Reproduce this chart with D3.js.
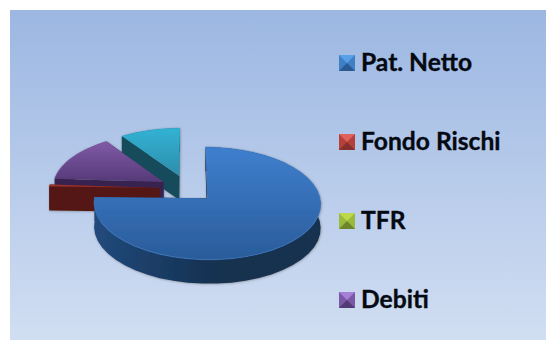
<!DOCTYPE html>
<html lang="en">
<head>
<meta charset="utf-8">
<title>Pat. Netto</title>
<script src="https://d3js.org/d3.v7.min.js"></script>
<style type="text/css">
	html, body { margin: 0; padding: 0; background: white; overflow: hidden; }
	svg { display: block; }
	.legendText {
		font-family: Lato, sans-serif;
		font-weight: 700;
		font-size: 24.6px;
		fill: #050a12;
		stroke: #050a12;
		stroke-width: 0.35;
	}
</style>
</head>
<body>
<script type="text/javascript">

	// the fifth slice has no entry in the original legend
	var sliceNames = ["Pat. Netto", "Fondo Rischi", "TFR", "Debiti", "Altro"];
	var sliceValues = [75.4, 0.6, 0, 14.3, 9.7];
	var legendLabels = ["Pat. Netto", "Fondo Rischi", "TFR", "Debiti"];

	var topLight = ["#3f7fce", "#a83a36", "#9bbb3f", "#805aa6", "#31b2d4"];
	var topDark = ["#2a5c9a", "#7a2320", "#6f8a2a", "#553a78", "#2e8dab"];
	var wallLeft = ["#214a7c", "#551712", "#55691e", "#392450", "#154b5b"];
	var wallRight = ["#14304f", "#551712", "#55691e", "#392450", "#154b5b"];
	var markerTop = ["#58a0e8", "#e0625c", "#bcd84f", "#a67fd6"];
	var markerSide = ["#3f7fc4", "#b5403a", "#9aba3c", "#7b58a6"];
	var markerBottom = ["#2b5a92", "#85302c", "#6d852b", "#523a74"];

	var width = 546,
		height = 340,
		cx = 187.5,
		cy = 188.5,
		rx = 111,
		ry = 54,
		persp = 0.09,
		explode = 0.25,
		depth = 24;

	var svg = d3.select("body")
				.append("svg")
				.attr("width", width)
				.attr("height", height);

	var defs = svg.append("defs");

	var bg = defs.append("linearGradient")
				 .attr("id", "bg")
				 .attr("x1", 0).attr("y1", 0)
				 .attr("x2", 0).attr("y2", 1);
	bg.append("stop").attr("offset", 0).attr("stop-color", "#9cb7e2");
	bg.append("stop").attr("offset", 1).attr("stop-color", "#d1def2");

	var shadow = defs.append("filter")
					 .attr("id", "soft")
					 .attr("x", "-10%").attr("y", "-10%")
					 .attr("width", "120%").attr("height", "120%");
	shadow.append("feDropShadow")
		  .attr("dx", 0.5).attr("dy", 0.5)
		  .attr("stdDeviation", 1)
		  .attr("flood-color", "#555")
		  .attr("flood-opacity", 0.55);

	sliceNames.forEach(function(d, i) {
		var top = defs.append("linearGradient")
					  .attr("id", "top" + i)
					  .attr("x1", 0).attr("y1", 0)
					  .attr("x2", 0).attr("y2", 1);
		top.append("stop").attr("offset", 0).attr("stop-color", topLight[i]);
		top.append("stop").attr("offset", 1).attr("stop-color", topDark[i]);

		var wall = defs.append("linearGradient")
					   .attr("id", "wall" + i)
					   .attr("x1", 0).attr("y1", 0)
					   .attr("x2", 1).attr("y2", 0);
		wall.append("stop").attr("offset", 0).attr("stop-color", wallLeft[i]);
		wall.append("stop").attr("offset", 0.55).attr("stop-color", wallRight[i]);
		wall.append("stop").attr("offset", 1).attr("stop-color", wallRight[i]);
	});

	svg.append("rect")
	   .attr("x", 10)
	   .attr("y", 10)
	   .attr("width", width - 10)
	   .attr("height", height - 10)
	   .attr("fill", "url(#bg)");

	// flat pie coordinates to screen, far side is squeezed a little
	function project(x, z) {
		var s = 1 / (1 + persp * z);
		return [cx + rx * x * s, cy - ry * z * s];
	}

	var pie = d3.pie().sort(null);
	var arcs = pie(sliceValues);
	var outline = d3.line();

	function slicePoints(d) {
		var mid = (d.startAngle + d.endAngle) / 2,
			ox = explode * Math.sin(mid),
			oz = explode * Math.cos(mid),
			steps = d3.range(0, 41).map(function(k) {
				return d.startAngle + (d.endAngle - d.startAngle) * k / 40;
			});
		return {
			apex: project(ox, oz),
			rim: steps.map(function(a) {
				return project(ox + Math.sin(a), oz + Math.cos(a));
			})
		};
	}

	function drop(p) {
		return [p[0], p[1] + depth];
	}

	var pieGroup = svg.append("g").attr("filter", "url(#soft)");

	// back to front
	[4, 3, 2, 1, 0].forEach(function(i) {
		var d = arcs[i];
		if (d.value == 0) return;
		var pts = slicePoints(d),
			rim = pts.rim,
			g = pieGroup.append("g");

		var first = rim[0],
			last = rim[rim.length - 1];

		g.append("path")
		 .attr("d", outline([pts.apex, first, drop(first), drop(pts.apex)]) + "Z")
		 .attr("fill", wallRight[i]);
		g.append("path")
		 .attr("d", outline([pts.apex, last, drop(last), drop(pts.apex)]) + "Z")
		 .attr("fill", wallRight[i]);

		// the rim wall
		g.append("path")
		 .attr("d", outline(rim.concat(rim.slice().reverse().map(drop))) + "Z")
		 .attr("fill", "url(#wall" + i + ")");

		g.append("path")
		 .attr("d", outline([pts.apex].concat(rim)) + "Z")
		 .attr("fill", "url(#top" + i + ")");

		g.append("path")
		 .attr("d", outline(rim))
		 .attr("fill", "none")
		 .attr("stroke", topLight[i])
		 .attr("stroke-opacity", 0.5)
		 .attr("stroke-width", 1.2);
	});

	var legendY = d3.scalePoint()
					.domain(legendLabels)
					.range([63, 300]);

	var legendBox = 16;

	var legend = svg.selectAll(".legendItem")
					.data(legendLabels)
					.enter()
					.append("g")
					.attr("class", "legendItem")
					.attr("transform", function(d) {
						return "translate(339," + (legendY(d) - legendBox / 2) + ")";
					});

	legend.each(function(d, i) {
		var g = d3.select(this),
			b = legendBox,
			c = b / 2;
		g.append("rect").attr("width", b).attr("height", b).attr("fill", markerSide[i]);
		g.append("path").attr("d", outline([[0, 0], [b, 0], [c, c]]) + "Z").attr("fill", markerTop[i]);
		g.append("path").attr("d", outline([[0, b], [b, b], [c, c]]) + "Z").attr("fill", markerBottom[i]);
	});

	legend.append("text")
		  .attr("class", "legendText")
		  .attr("x", 22)
		  .attr("y", 16)
		  .text(function(d) { return d; });

</script>
</body>
</html>
